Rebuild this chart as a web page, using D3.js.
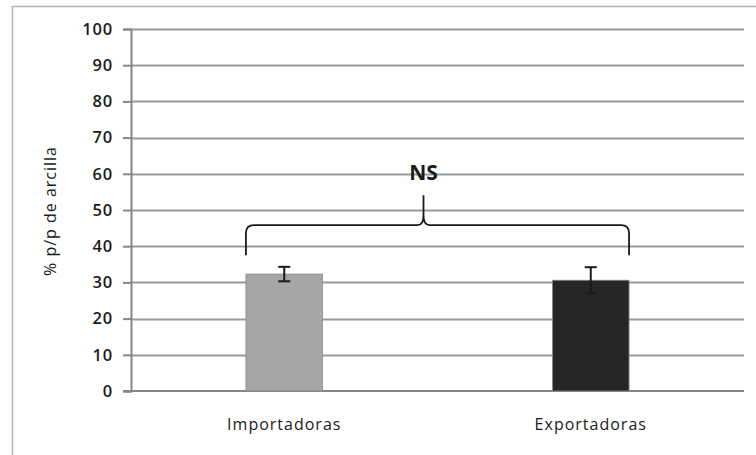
<!DOCTYPE html>
<html>
<head>
<meta charset="utf-8">
<script src="https://cdn.jsdelivr.net/npm/d3@7"></script>
<style>
  html, body { margin: 0; padding: 0; background: #fff; }
  svg { display: block; }
</style>
</head>
<body>
<svg id="chart" width="756" height="455"></svg>
<script>
// Clay content (% w/w) by group, with error bars
const categories = ["Importadoras", "Exportadoras"];
const means = [32.3, 30.6];
const errors = [2.0, 3.6];
const barColors = ["#a6a6a6", "#262626"];
const yTicks = [0, 10, 20, 30, 40, 50, 60, 70, 80, 90, 100];
const yLabel = "% p/p de arcilla";
const signifLabel = "NS";
// Brace levels (in axis units): ends, horizontal arm, tip
const braceLevels = [37.5, 45.8, 54.1];

const svg = d3.select("#chart");
const font = "'Open Sans', 'DejaVu Sans', sans-serif";

const margin = { left: 131, right: 12, top: 29, bottom: 64 };
const W = 756, H = 455;
const x0 = margin.left, x1 = W - margin.right;
const yTop = margin.top, yBot = H - margin.bottom;

const x = d3.scaleBand().domain(categories).range([x0, x1]).padding(0);
const y = d3.scaleLinear().domain([0, 100]).range([yBot, yTop]);
const barW = x.bandwidth() * 0.25;

// outer frame
svg.append("path")
  .attr("d", `M12.5,${H} V6.5 H${W}`)
  .attr("fill", "none").attr("stroke", "#b4b4b4").attr("stroke-width", 1.5);

// gridlines
svg.append("g").selectAll("line").data(yTicks.filter(d => d > 0)).join("line")
  .attr("x1", x0).attr("x2", x1)
  .attr("y1", d => Math.round(y(d)) + 0.5).attr("y2", d => Math.round(y(d)) + 0.5)
  .attr("stroke", "#9a9a9a").attr("stroke-width", 2);

// y axis
const yAxis = d3.axisLeft(y).tickValues(yTicks).tickSize(8).tickPadding(10);
const gy = svg.append("g").attr("transform", `translate(${x0},0)`).call(yAxis);
gy.select(".domain").attr("stroke", "#868686").attr("stroke-width", 2);
gy.selectAll(".tick line").attr("stroke", "#868686").attr("stroke-width", 2);
gy.selectAll(".tick text").attr("font-family", font).attr("font-size", 16.5)
  .attr("font-weight", 600).attr("letter-spacing", 0.8)
  .attr("fill", "#1a1a1a");

// baseline
svg.append("line").attr("x1", x0 - 8).attr("x2", x1)
  .attr("y1", y(0)).attr("y2", y(0))
  .attr("stroke", "#868686").attr("stroke-width", 2);

// bars
svg.append("g").selectAll("rect").data(categories).join("rect")
  .attr("x", d => x(d) + x.bandwidth() / 2 - barW / 2)
  .attr("width", barW)
  .attr("y", (d, i) => y(means[i]))
  .attr("height", (d, i) => y(0) - y(means[i]))
  .attr("fill", (d, i) => barColors[i])
  .attr("stroke", "#8a8a8a").attr("stroke-width", 0.8);

// error bars
const eb = svg.append("g").attr("stroke", "#1a1a1a").attr("stroke-width", 2);
categories.forEach((c, i) => {
  const cx = x(c) + x.bandwidth() / 2;
  const hi = y(means[i] + errors[i]), lo = y(means[i] - errors[i]);
  eb.append("line").attr("x1", cx).attr("x2", cx).attr("y1", hi).attr("y2", lo);
  eb.append("line").attr("x1", cx - 6).attr("x2", cx + 6).attr("y1", hi).attr("y2", hi);
  eb.append("line").attr("x1", cx - 6).attr("x2", cx + 6).attr("y1", lo).attr("y2", lo);
});

// category labels
svg.append("g").selectAll("text").data(categories).join("text")
  .attr("x", d => x(d) + x.bandwidth() / 2)
  .attr("y", 430)
  .attr("text-anchor", "middle")
  .attr("font-family", font).attr("font-size", 16).attr("font-weight", 500)
  .attr("letter-spacing", 1)
  .attr("fill", "#1a1a1a")
  .text(d => d);

// y axis title
svg.append("text")
  .attr("transform", `translate(56,211) rotate(-90)`)
  .attr("text-anchor", "middle")
  .attr("font-family", font).attr("font-size", 16).attr("font-weight", 500)
  .attr("letter-spacing", 1)
  .attr("fill", "#1a1a1a")
  .text(yLabel);

// brace spanning both bars
const bl = x(categories[0]) + x.bandwidth() / 2 - barW / 2;
const br = x(categories[1]) + x.bandwidth() / 2 + barW / 2;
const bm = (x(categories[0]) + x(categories[1]) + x.bandwidth()) / 2 - 14;
const yEnd = y(braceLevels[0]), yArm = y(braceLevels[1]), yTip = y(braceLevels[2]);
const p = d3.path();
p.moveTo(bl, yEnd);
p.lineTo(bl, yArm + 8);
p.quadraticCurveTo(bl, yArm, bl + 8, yArm);
p.lineTo(bm - 6, yArm);
p.quadraticCurveTo(bm, yArm, bm, yArm - 10);
p.lineTo(bm, yTip);
p.moveTo(bm, yArm - 10);
p.quadraticCurveTo(bm, yArm, bm + 6, yArm);
p.lineTo(br - 8, yArm);
p.quadraticCurveTo(br, yArm, br, yArm + 8);
p.lineTo(br, yEnd);
svg.append("path").attr("d", p.toString())
  .attr("fill", "none").attr("stroke", "#1a1a1a").attr("stroke-width", 1.8);

svg.append("text")
  .attr("x", bm).attr("y", 179.5)
  .attr("text-anchor", "middle")
  .attr("font-family", font).attr("font-size", 21).attr("font-weight", 700)
  .attr("fill", "#1a1a1a")
  .text(signifLabel);
</script>
</body>
</html>
